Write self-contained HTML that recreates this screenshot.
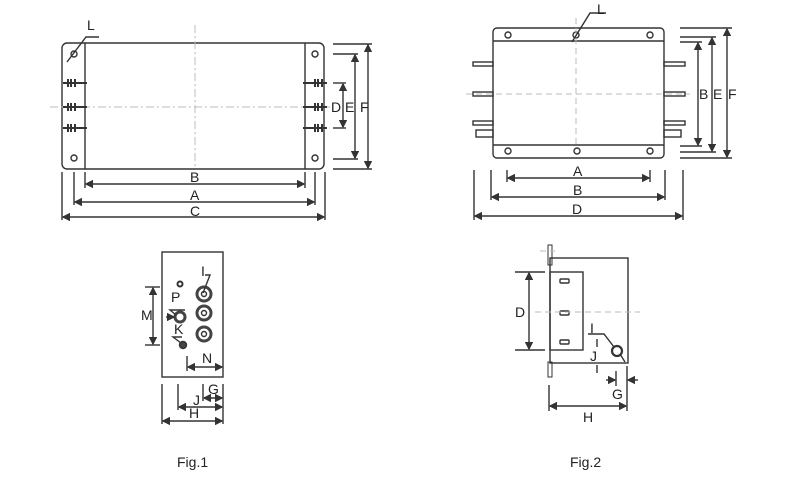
<!DOCTYPE html>
<html><head><style>body{margin:0;background:#fff}svg{display:block}text{font-family:"Liberation Sans",sans-serif;font-size:14px;fill:#222}</style></head><body>
<svg width="800" height="488" viewBox="0 0 800 488" xmlns="http://www.w3.org/2000/svg">
<defs><marker id="a" markerWidth="6" markerHeight="6" refX="5" refY="3" orient="auto-start-reverse"><path d="M0,0 L6,3 L0,6z" fill="#333"/></marker></defs>
<g stroke="#333" fill="none" stroke-width="1.4">
<!-- Fig1 top -->
<rect x="62" y="43" width="262" height="126" rx="5"/>
<line x1="85" y1="43" x2="85" y2="169"/><line x1="305" y1="43" x2="305" y2="169"/>
<circle cx="74" cy="54" r="3"/><circle cx="74" cy="158" r="3"/><circle cx="315" cy="54" r="3"/><circle cx="315" cy="158" r="3"/>
<g stroke="#bbb" stroke-dasharray="8,3,2,3" stroke-width="1"><line x1="195" y1="25" x2="195" y2="169"/><line x1="50" y1="107" x2="330" y2="107"/></g>
<g stroke-width="2"><line x1="63" y1="83" x2="87" y2="83"/><line x1="63" y1="107" x2="87" y2="107"/><line x1="63" y1="128" x2="87" y2="128"/>
<line x1="303" y1="83" x2="327" y2="83"/><line x1="303" y1="107" x2="327" y2="107"/><line x1="303" y1="128" x2="327" y2="128"/></g>
<g stroke-width="2"><line x1="68" y1="79" x2="68" y2="87"/><line x1="71" y1="79" x2="71" y2="87"/><line x1="75" y1="79" x2="75" y2="87"/><line x1="68" y1="103" x2="68" y2="111"/><line x1="71" y1="103" x2="71" y2="111"/><line x1="75" y1="103" x2="75" y2="111"/><line x1="68" y1="124" x2="68" y2="132"/><line x1="71" y1="124" x2="71" y2="132"/><line x1="75" y1="124" x2="75" y2="132"/>
<line x1="315" y1="79" x2="315" y2="87"/><line x1="318" y1="79" x2="318" y2="87"/><line x1="322" y1="79" x2="322" y2="87"/><line x1="315" y1="103" x2="315" y2="111"/><line x1="318" y1="103" x2="318" y2="111"/><line x1="322" y1="103" x2="322" y2="111"/><line x1="315" y1="124" x2="315" y2="132"/><line x1="318" y1="124" x2="318" y2="132"/><line x1="322" y1="124" x2="322" y2="132"/></g>
<polyline points="67,62 86,37 99,37"/>
<line x1="333" y1="44" x2="372" y2="44"/><line x1="333" y1="169" x2="372" y2="169"/><line x1="333" y1="54" x2="358" y2="54"/><line x1="333" y1="159" x2="358" y2="159"/><line x1="333" y1="83" x2="346" y2="83"/><line x1="333" y1="128" x2="346" y2="128"/>
<line x1="368" y1="45" x2="368" y2="168" marker-start="url(#a)" marker-end="url(#a)"/>
<line x1="355" y1="55" x2="355" y2="158" marker-start="url(#a)" marker-end="url(#a)"/>
<line x1="343" y1="84" x2="343" y2="127" marker-start="url(#a)" marker-end="url(#a)"/>
<line x1="85" y1="172" x2="85" y2="188"/><line x1="305" y1="172" x2="305" y2="188"/><line x1="74" y1="172" x2="74" y2="205"/><line x1="315" y1="172" x2="315" y2="205"/><line x1="62" y1="172" x2="62" y2="220"/><line x1="325" y1="172" x2="325" y2="220"/>
<line x1="86" y1="184" x2="304" y2="184" marker-start="url(#a)" marker-end="url(#a)"/>
<line x1="75" y1="202" x2="314" y2="202" marker-start="url(#a)" marker-end="url(#a)"/>
<line x1="63" y1="217" x2="324" y2="217" marker-start="url(#a)" marker-end="url(#a)"/>
<!-- Fig2 top -->
<rect x="493" y="28" width="171" height="130" rx="4"/>
<line x1="493" y1="41" x2="664" y2="41"/><line x1="493" y1="145" x2="664" y2="145"/>
<circle cx="508" cy="35" r="3"/><circle cx="576" cy="35" r="3"/><circle cx="650" cy="35" r="3"/><circle cx="508" cy="151" r="3"/><circle cx="577" cy="151" r="3"/><circle cx="650" cy="151" r="3"/>
<g stroke="#bbb" stroke-dasharray="6,4" stroke-width="1"><line x1="576" y1="18" x2="576" y2="145"/><line x1="466" y1="94" x2="690" y2="94"/></g>
<rect x="473" y="62" width="20" height="4"/><rect x="473" y="92" width="20" height="4"/><rect x="473" y="121" width="20" height="4"/>
<rect x="664" y="62" width="21" height="4"/><rect x="664" y="92" width="21" height="4"/><rect x="664" y="121" width="21" height="4"/>
<rect x="476" y="130" width="17" height="7"/><rect x="664" y="130" width="17" height="7"/>
<polyline points="572,42 590,13 606,13"/>
<line x1="680" y1="28" x2="732" y2="28"/><line x1="680" y1="158" x2="732" y2="158"/><line x1="680" y1="37" x2="716" y2="37"/><line x1="680" y1="152" x2="716" y2="152"/><line x1="680" y1="42" x2="702" y2="42"/><line x1="680" y1="146" x2="702" y2="146"/>
<line x1="727" y1="29" x2="727" y2="157" marker-start="url(#a)" marker-end="url(#a)"/>
<line x1="712" y1="38" x2="712" y2="151" marker-start="url(#a)" marker-end="url(#a)"/>
<line x1="698" y1="43" x2="698" y2="145" marker-start="url(#a)" marker-end="url(#a)"/>
<line x1="507" y1="170" x2="507" y2="182"/><line x1="650" y1="170" x2="650" y2="182"/><line x1="491" y1="170" x2="491" y2="200"/><line x1="665" y1="170" x2="665" y2="200"/><line x1="474" y1="170" x2="474" y2="220"/><line x1="683" y1="170" x2="683" y2="220"/>
<line x1="508" y1="178" x2="649" y2="178" marker-start="url(#a)" marker-end="url(#a)"/>
<line x1="492" y1="197" x2="664" y2="197" marker-start="url(#a)" marker-end="url(#a)"/>
<line x1="475" y1="216" x2="682" y2="216" marker-start="url(#a)" marker-end="url(#a)"/>
<!-- Fig1 bottom -->
<rect x="162" y="252" width="61" height="125"/>
<line x1="145" y1="287" x2="160" y2="287"/><line x1="145" y1="345" x2="160" y2="345"/>
<line x1="153" y1="288" x2="153" y2="344" marker-start="url(#a)" marker-end="url(#a)"/>
<g stroke="#444" stroke-width="3"><circle cx="204" cy="294" r="7"/><circle cx="204" cy="313" r="7"/><circle cx="204" cy="334" r="7"/><circle cx="180" cy="317" r="5"/></g>
<circle cx="204" cy="294" r="2.5"/><circle cx="204" cy="313" r="2.5"/><circle cx="204" cy="334" r="2.5"/>
<circle cx="180" cy="284" r="2.5" stroke-width="2"/><circle cx="183" cy="345" r="3.5" fill="#444"/>
<polyline points="203,293 210,275 205,275"/><polyline points="176,315 170,310 185,310"/><polyline points="181,343 173,337 182,337"/><line x1="166" y1="317" x2="174" y2="317" marker-end="url(#a)"/>
<line x1="187" y1="356" x2="187" y2="371"/><line x1="188" y1="367" x2="222" y2="367" marker-start="url(#a)" marker-end="url(#a)"/>
<line x1="203" y1="384" x2="203" y2="401"/><line x1="178" y1="384" x2="178" y2="410"/><line x1="162" y1="384" x2="162" y2="424"/><line x1="223" y1="384" x2="223" y2="424"/>
<line x1="204" y1="398" x2="222" y2="398" marker-start="url(#a)" marker-end="url(#a)"/>
<line x1="179" y1="407" x2="222" y2="407" marker-start="url(#a)" marker-end="url(#a)"/>
<line x1="163" y1="421" x2="222" y2="421" marker-start="url(#a)" marker-end="url(#a)"/>
<!-- Fig2 bottom -->
<rect x="550" y="258" width="78" height="105"/>
<rect x="550" y="272" width="33" height="78"/>
<rect x="548" y="245" width="4" height="20" stroke-width="1"/><rect x="548" y="362" width="4" height="15" stroke-width="1"/>
<rect x="560" y="279" width="9" height="4" rx="1"/><rect x="560" y="311" width="9" height="4" rx="1"/><rect x="560" y="340" width="9" height="4" rx="1"/>
<g stroke="#bbb" stroke-dasharray="6,4" stroke-width="1"><line x1="535" y1="312" x2="640" y2="312"/><line x1="540" y1="251" x2="555" y2="251"/></g>
<line x1="515" y1="272" x2="545" y2="272"/><line x1="515" y1="350" x2="545" y2="350"/>
<line x1="529" y1="273" x2="529" y2="349" marker-start="url(#a)" marker-end="url(#a)"/>
<circle cx="617" cy="351" r="5" stroke-width="2.2"/>
<polyline points="588,334 604,334 614,347"/><line x1="620" y1="354" x2="625" y2="362"/>
<line x1="597" y1="339" x2="597" y2="347"/><line x1="597" y1="365" x2="597" y2="373"/>
<line x1="549" y1="385" x2="549" y2="411"/><line x1="627" y1="366" x2="627" y2="411"/><line x1="616" y1="371" x2="616" y2="386"/>
<line x1="550" y1="406" x2="626" y2="406" marker-start="url(#a)" marker-end="url(#a)"/>
<line x1="606" y1="380" x2="615" y2="380" marker-end="url(#a)"/><line x1="638" y1="380" x2="628" y2="380" marker-end="url(#a)"/>
</g>
<text x="87" y="30">L</text>
<text x="331" y="112">D</text><text x="345" y="112">E</text><text x="360" y="112">F</text>
<text x="190" y="182">B</text><text x="190" y="200">A</text><text x="190" y="216">C</text>
<text x="597" y="14">L</text>
<text x="699" y="99">B</text><text x="713" y="99">E</text><text x="728" y="99">F</text>
<text x="573" y="176">A</text><text x="573" y="195">B</text><text x="572" y="214">D</text>
<g style="font-size:11px"><text x="141" y="320">M</text><text x="171" y="302">P</text><text x="174" y="334">K</text><text x="202" y="363">N</text><text x="208" y="394">G</text><text x="193" y="405">J</text><text x="189" y="418">H</text><text x="201" y="276">I</text>
<text x="590" y="333">I</text><text x="590" y="361">J</text></g>
<text x="515" y="317">D</text><text x="612" y="399">G</text><text x="583" y="422">H</text>
<text x="177" y="467">Fig.1</text><text x="570" y="467">Fig.2</text>
</svg></body></html>
